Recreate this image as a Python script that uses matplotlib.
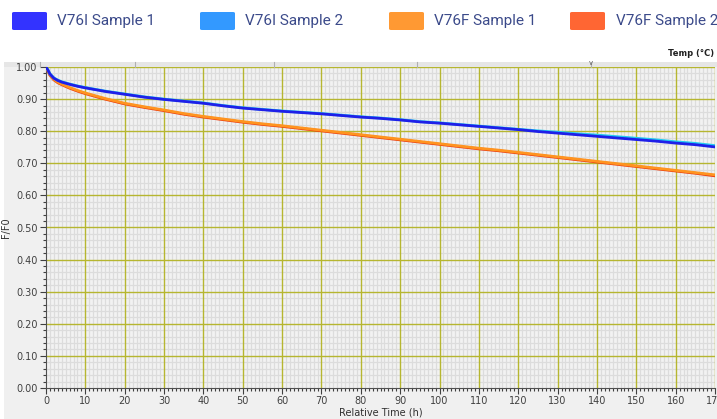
import matplotlib.pyplot as plt
from matplotlib.patches import FancyBboxPatch, Rectangle
from matplotlib.ticker import MultipleLocator

# data (relative time in h, F/F0)
tempo = [0, 0.5, 1, 2, 3, 4, 6, 8, 10, 15, 20, 25, 30, 35, 40, 45, 50, 55, 60,
         65, 70, 75, 80, 85, 90, 95, 100, 105, 110, 115, 120, 125, 130, 135,
         140, 145, 150, 155, 160, 165, 170]

v76i_s1 = [1.000, 0.990, 0.978, 0.965, 0.958, 0.953, 0.946, 0.940, 0.935, 0.924,
           0.915, 0.906, 0.899, 0.893, 0.887, 0.879, 0.872, 0.867, 0.862, 0.858,
           0.854, 0.849, 0.844, 0.840, 0.835, 0.829, 0.825, 0.820, 0.815, 0.810,
           0.805, 0.799, 0.794, 0.789, 0.784, 0.779, 0.774, 0.769, 0.763, 0.758,
           0.751]
v76i_s2 = [1.000, 0.991, 0.979, 0.966, 0.959, 0.954, 0.947, 0.941, 0.936, 0.925,
           0.916, 0.907, 0.900, 0.894, 0.888, 0.880, 0.873, 0.868, 0.863, 0.859,
           0.855, 0.850, 0.845, 0.841, 0.836, 0.830, 0.826, 0.821, 0.816, 0.811,
           0.806, 0.801, 0.797, 0.792, 0.788, 0.783, 0.778, 0.773, 0.767, 0.762,
           0.755]
v76f_s1 = [1.000, 0.988, 0.975, 0.962, 0.953, 0.947, 0.936, 0.927, 0.919, 0.902,
           0.887, 0.876, 0.866, 0.855, 0.846, 0.838, 0.830, 0.823, 0.817, 0.810,
           0.803, 0.796, 0.789, 0.782, 0.775, 0.768, 0.761, 0.754, 0.747, 0.741,
           0.734, 0.727, 0.720, 0.713, 0.706, 0.699, 0.692, 0.685, 0.678, 0.671,
           0.664]
v76f_s2 = [1.000, 0.987, 0.974, 0.960, 0.951, 0.945, 0.934, 0.925, 0.917, 0.900,
           0.885, 0.874, 0.864, 0.853, 0.844, 0.836, 0.828, 0.821, 0.815, 0.808,
           0.801, 0.794, 0.787, 0.780, 0.773, 0.766, 0.759, 0.752, 0.745, 0.739,
           0.732, 0.725, 0.718, 0.711, 0.704, 0.697, 0.690, 0.683, 0.676, 0.669,
           0.661]

nomes = ['V76I Sample 1', 'V76I Sample 2', 'V76F Sample 1', 'V76F Sample 2']
cores_legenda = ['#3333ff', '#3399ff', '#ff9933', '#ff6633']
cores_linha = ['#1f1fe8', '#22ccf0', '#ff9420', '#ea3a10']

W, H = 717, 419
fig = plt.figure(figsize=(W / 100, H / 100), dpi=100, facecolor='white')

# painel cinza atrás do gráfico
fig.patches.append(Rectangle((4 / W, 0), 1, (H - 62) / H, transform=fig.transFigure,
                             facecolor='#f0f0f0', edgecolor='none', zorder=-10))
# faixa superior (eixo de temperatura)
fig.patches.append(Rectangle((4 / W, (H - 67) / H), 1, 5 / H, transform=fig.transFigure,
                             facecolor='#e6e6e6', edgecolor='none', zorder=-9))
for xp in [40, 135, 274, 417, 591]:
    fig.add_artist(plt.Line2D([xp / W, xp / W], [(H - 67) / H, (H - 62) / H],
                              color='#b0b0b0', lw=0.8, transform=fig.transFigure))
fig.text(591 / W, (H - 63) / H, 'v', fontsize=5, color='#606060', ha='center', va='center')
fig.text(714 / W, (H - 53) / H, 'Temp (°C)', fontsize=6, weight='bold', color='#202020',
         ha='right', va='center')

ax = fig.add_axes([46 / W, 31 / H, (715 - 46) / W, 321 / H])
ax.set_facecolor('#f2f2f2')

dados = [v76i_s1, v76i_s2, v76f_s1, v76f_s2]
ordem = [3, 2, 1, 0]
for i in ordem:
    ax.plot(tempo, dados[i], color=cores_linha[i], lw=2.0, zorder=3 + (3 - i))

ax.set_xlim(0, 170)
ax.set_ylim(0, 1.0)
ax.xaxis.set_major_locator(MultipleLocator(10))
ax.xaxis.set_minor_locator(MultipleLocator(1))
ax.yaxis.set_major_locator(MultipleLocator(0.1))
ax.yaxis.set_minor_locator(MultipleLocator(0.02))
ax.set_yticks(ax.get_yticks())
ax.set_yticklabels([f'{v:.2f}' for v in ax.get_yticks()])
ax.set_ylim(0, 1.0)

# grade fina cinza e grade principal oliva por cima
ax.grid(which='minor', color='#dcdcdc', lw=0.9)
ax.set_axisbelow(True)
for xv in ax.get_xticks():
    if 0 < xv <= 170:
        ax.axvline(xv, color='#b6b630', lw=1.0, zorder=2)
for yv in ax.get_yticks():
    if 0 < yv <= 1.0:
        ax.axhline(yv, color='#b6b630', lw=1.0, zorder=2)

for lado in ['top', 'right']:
    ax.spines[lado].set_visible(False)
ax.spines['left'].set_color('#505050')
ax.spines['bottom'].set_color('#505050')
ax.spines['left'].set_linewidth(0.8)
ax.spines['bottom'].set_linewidth(0.8)

ax.tick_params(which='major', length=4, width=0.8, color='#404040',
               labelsize=7, labelcolor='#404040', pad=2)
ax.tick_params(which='minor', length=2.5, width=0.8, color='#404040')

ax.set_xlabel('Relative Time (h)', fontsize=7, color='#303030', labelpad=1)
ax.set_ylabel('F/F0', fontsize=7, color='#303030', labelpad=4)

# legenda no topo
x_patch = [12, 200, 389, 570]
x_texto = [57, 245, 434, 616]
for xp, xt, nome, cor in zip(x_patch, x_texto, nomes, cores_legenda):
    fig.patches.append(FancyBboxPatch((xp / W, (H - 30) / H), 35 / W, 18 / H,
                                      boxstyle='round,pad=0,rounding_size=0.003',
                                      transform=fig.transFigure, facecolor=cor,
                                      edgecolor='none'))
    fig.text(xt / W, (H - 21) / H, nome, fontsize=11, color='#3b4a8a',
             ha='left', va='center', family=['Roboto', 'DejaVu Sans'])

fig.savefig('out.png', dpi=100)
